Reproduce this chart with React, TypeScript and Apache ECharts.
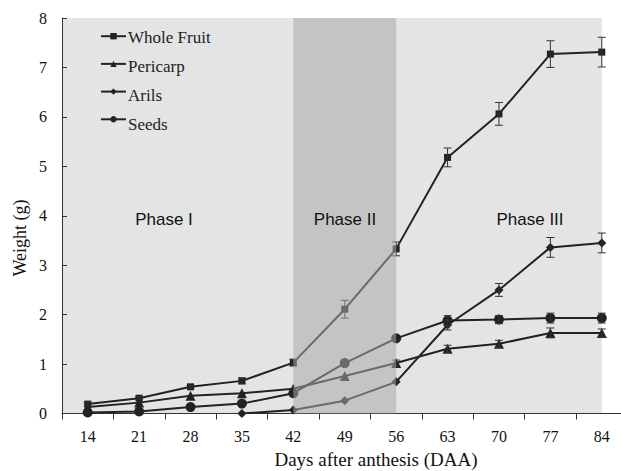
import React, { useEffect, useRef } from "react";
import * as echarts from "echarts";

const days = ["14", "21", "28", "35", "42", "49", "56", "63", "70", "77", "84"];
const wholeFruit = [0.19, 0.31, 0.54, 0.66, 1.03, 2.11, 3.33, 5.18, 6.06, 7.27, 7.31];
const wholeFruitErr = [0.04, 0.03, 0.03, 0.06, 0.07, 0.18, 0.14, 0.19, 0.23, 0.27, 0.3];
const pericarp = [0.13, 0.22, 0.36, 0.41, 0.5, 0.76, 1.02, 1.31, 1.41, 1.63, 1.63];
const pericarpErr = [0, 0, 0, 0, 0, 0, 0.06, 0.07, 0.07, 0.1, 0.08];
const arils = [null, null, null, 0.0, 0.07, 0.26, 0.64, 1.79, 2.5, 3.36, 3.45];
const arilsErr = [0, 0, 0, 0, 0, 0, 0, 0.1, 0.13, 0.2, 0.2];
const seeds = [0.02, 0.04, 0.13, 0.2, 0.41, 1.02, 1.52, 1.88, 1.9, 1.93, 1.93];
const seedsErr = [0, 0, 0, 0, 0, 0, 0, 0.1, 0.08, 0.1, 0.1];
const seriesNames = ["Whole Fruit", "Pericarp", "Arils", "Seeds"];
const yTicks = [0, 1, 2, 3, 4, 5, 6, 7, 8];
const phaseLabels = ["Phase I", "Phase II", "Phase III"];

const serif = "Liberation Serif";
const sans = "Liberation Sans";
const lineColor = "#222222";

const legendTop = 28;
const legendStep = 29.3;

function errData(vals: (number | null)[], errs: number[]) {
  const out: number[][] = [];
  vals.forEach((v, i) => {
    if (v !== null && errs[i] > 0) out.push([i, v - errs[i], v + errs[i]]);
  });
  return out;
}

export default function App() {
  const ref = useRef<HTMLDivElement>(null);
  useEffect(() => {
    if (!ref.current) return;
    const chart = echarts.init(ref.current, null, { renderer: "svg" });
    const lineSeries = (name: string, data: (number | null)[], symbol: string, size: number) => ({
      name,
      type: "line",
      data,
      symbol,
      symbolSize: size,
      connectNulls: false,
      lineStyle: { color: lineColor, width: 2 },
      itemStyle: { color: lineColor },
      z: 2,
    });
    const errSeries = (vals: (number | null)[], errs: number[]) => ({
      type: "custom",
      data: errData(vals, errs),
      z: 3,
      silent: true,
      renderItem: (params: any, api: any) => {
        const x = api.value(0);
        const lo = api.coord([x, api.value(1)]);
        const hi = api.coord([x, api.value(2)]);
        const w = 4;
        const style = { stroke: "#333333", lineWidth: 1 };
        return {
          type: "group",
          children: [
            { type: "line", shape: { x1: hi[0], y1: hi[1], x2: lo[0], y2: lo[1] }, style },
            { type: "line", shape: { x1: hi[0] - w, y1: hi[1], x2: hi[0] + w, y2: hi[1] }, style },
            { type: "line", shape: { x1: lo[0] - w, y1: lo[1], x2: lo[0] + w, y2: lo[1] }, style },
          ],
        };
      },
    });
    const legendTexts = seriesNames.map((n, i) => ({
      type: "text",
      x: 128,
      y: legendTop + 5 + 4 + i * legendStep,
      style: { text: n, font: `17px ${serif}`, fill: "#222", align: "left", verticalAlign: "middle" },
      z: 20,
    }));
    chart.setOption({
      animation: false,
      textStyle: { fontFamily: serif },
      grid: { left: 62, right: 12.5, top: 18, bottom: 57.5 },
      legend: {
        data: seriesNames,
        orient: "vertical",
        left: 95,
        top: legendTop,
        itemWidth: 25,
        itemHeight: 8,
        itemGap: legendStep - 8,
        formatter: () => "",
        textStyle: { fontSize: 1, lineHeight: 1, color: "#222" },
      },
      xAxis: {
        type: "category",
        data: days,
        boundaryGap: true,
        axisLine: { lineStyle: { color: "#333", width: 1 } },
        axisTick: { show: true, inside: false, length: 6, lineStyle: { color: "#333" } },
        axisLabel: { fontFamily: serif, fontSize: 16, color: "#111", margin: 15 },
        splitLine: { show: false },
      },
      yAxis: {
        type: "value",
        min: 0,
        max: 8,
        interval: 1,
        axisLine: { show: true, lineStyle: { color: "#333", width: 1 } },
        axisTick: { show: true, inside: true, length: 5, lineStyle: { color: "#333" } },
        axisLabel: {
          fontFamily: serif,
          fontSize: 16,
          color: "#111",
          margin: 15,
          formatter: (v: number) => (yTicks.includes(v) ? String(v) : ""),
        },
        splitLine: { show: false },
      },
      graphic: [
        ...legendTexts,
        {
          type: "text",
          x: 164,
          y: 219,
          style: { text: phaseLabels[0], font: `17px ${sans}`, fill: "#111", align: "center", verticalAlign: "middle" },
          z: 20,
        },
        {
          type: "text",
          x: 345,
          y: 219,
          style: { text: phaseLabels[1], font: `17px ${sans}`, fill: "#111", align: "center", verticalAlign: "middle" },
          z: 20,
        },
        {
          type: "text",
          x: 530,
          y: 219,
          style: { text: phaseLabels[2], font: `17px ${sans}`, fill: "#111", align: "center", verticalAlign: "middle" },
          z: 20,
        },
        {
          type: "text",
          x: 376,
          y: 459,
          style: { text: "Days after anthesis (DAA)", font: `19px ${serif}`, fill: "#111", align: "center", verticalAlign: "middle" },
        },
        {
          type: "text",
          x: 20,
          y: 238,
          rotation: Math.PI / 2,
          style: { text: "Weight (g)", font: `18px ${serif}`, fill: "#111", align: "center", verticalAlign: "middle" },
        },
      ],
      series: [
        {
          type: "line",
          data: [],
          silent: true,
          markArea: {
            silent: true,
            z: 0,
            itemStyle: { color: "#e4e4e4" },
            data: [[{ yAxis: 8 }, { xAxis: "84", yAxis: 0 }]],
          },
        },
        {
          type: "line",
          data: [],
          silent: true,
          markArea: {
            silent: true,
            z: 10,
            itemStyle: { color: "rgba(168,168,168,0.54)" },
            data: [[{ xAxis: "42", yAxis: 8 }, { xAxis: "56", yAxis: 0 }]],
          },
        },
        lineSeries(seriesNames[0], wholeFruit, "rect", 7),
        lineSeries(seriesNames[1], pericarp, "triangle", 10),
        lineSeries(seriesNames[2], arils, "diamond", 9),
        lineSeries(seriesNames[3], seeds, "circle", 10),
        errSeries(wholeFruit, wholeFruitErr),
        errSeries(pericarp, pericarpErr),
        errSeries(arils, arilsErr),
        errSeries(seeds, seedsErr),
      ],
    });
    return () => chart.dispose();
  }, []);
  return (
    <div
      style={{
        position: "fixed",
        left: 0,
        top: 0,
        width: 621,
        height: 471,
        overflow: "hidden",
        background: "#fff",
      }}
    >
      <div ref={ref} style={{ width: 640, height: 471 }} />
    </div>
  );
}
